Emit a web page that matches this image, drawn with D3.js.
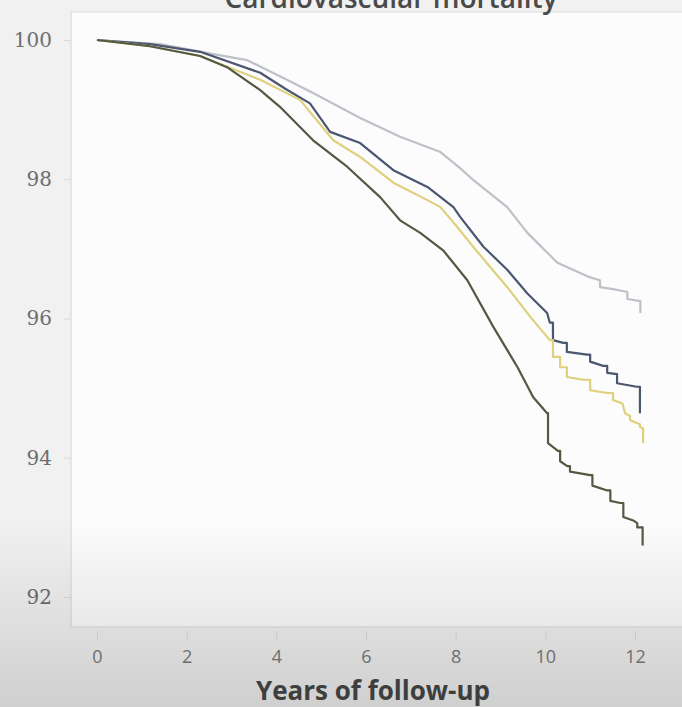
<!DOCTYPE html>
<html>
<head>
<meta charset="utf-8">
<script src="https://cdn.jsdelivr.net/npm/d3@7"></script>
<style>
  html, body { margin: 0; padding: 0; background: #f1f1f1; }
  svg { display: block; }
</style>
</head>
<body>
<svg id="chart" width="682" height="707"></svg>
<script>
// Kaplan-Meier style survival (%) by years of follow-up, four groups
const groupNames = ["Group A", "Group B", "Group C", "Group D"];
const groupColors = ["#bec1c8", "#4b5670", "#ded07c", "#525a43"];

const groupA = [
  [0, 100], [1.41, 99.94], [2.75, 99.78], [3.35, 99.71], [4.08, 99.48], [4.82, 99.24],
  [5.87, 98.88], [6.76, 98.61], [7.66, 98.39], [8.10, 98.16], [8.39, 97.99], [9.15, 97.60],
  [9.60, 97.23], [10.27, 96.80], [11.00, 96.59], [11.22, 96.55], [11.22, 96.45], [11.61, 96.41],
  [11.83, 96.38], [11.83, 96.28], [12.12, 96.25], [12.12, 96.08]
];
const groupB = [
  [0, 100], [1.18, 99.94], [2.30, 99.83], [3.64, 99.53], [4.20, 99.30], [4.75, 99.09],
  [5.20, 98.68], [5.87, 98.52], [6.61, 98.13], [7.37, 97.89], [7.95, 97.60], [8.10, 97.46],
  [8.62, 97.03], [9.15, 96.70], [9.60, 96.36], [10.04, 96.08], [10.10, 95.94], [10.17, 95.94],
  [10.17, 95.69], [10.40, 95.65], [10.48, 95.65], [10.48, 95.52], [10.93, 95.48], [11.00, 95.48],
  [11.00, 95.38], [11.29, 95.32], [11.38, 95.32], [11.38, 95.22], [11.60, 95.20], [11.60, 95.07],
  [12.04, 95.02], [12.11, 95.02], [12.11, 94.64]
];
const groupC = [
  [0, 100], [1.18, 99.91], [2.30, 99.77], [3.64, 99.43], [4.53, 99.14], [5.27, 98.56],
  [5.87, 98.32], [6.61, 97.95], [7.37, 97.70], [7.66, 97.60], [8.04, 97.31], [8.39, 97.03],
  [9.15, 96.45], [9.67, 96.02], [10.10, 95.69], [10.17, 95.69], [10.17, 95.45], [10.33, 95.45],
  [10.33, 95.30], [10.48, 95.30], [10.48, 95.16], [10.84, 95.12], [11.00, 95.12], [11.00, 94.97],
  [11.38, 94.93], [11.51, 94.93], [11.51, 94.83], [11.72, 94.78], [11.78, 94.64], [11.89, 94.60],
  [11.89, 94.54], [12.11, 94.48], [12.11, 94.44], [12.18, 94.42], [12.18, 94.21]
];
const groupD = [
  [0, 100], [1.18, 99.91], [2.30, 99.77], [2.90, 99.61], [3.64, 99.28], [4.08, 99.04],
  [4.82, 98.56], [5.58, 98.18], [6.32, 97.74], [6.76, 97.41], [7.21, 97.23], [7.72, 96.98],
  [8.26, 96.55], [8.84, 95.88], [9.38, 95.30], [9.73, 94.87], [10.04, 94.64], [10.06, 94.64],
  [10.06, 94.21], [10.28, 94.10], [10.33, 94.10], [10.33, 93.95], [10.49, 93.88], [10.55, 93.88],
  [10.55, 93.80], [11.00, 93.75], [11.05, 93.75], [11.05, 93.60], [11.38, 93.53], [11.45, 93.53],
  [11.45, 93.38], [11.67, 93.35], [11.74, 93.35], [11.74, 93.15], [11.96, 93.10], [12.05, 93.06],
  [12.05, 93.00], [12.17, 93.00], [12.17, 92.74]
];
const series = [groupA, groupB, groupC, groupD];

const xTicks = [0, 2, 4, 6, 8, 10, 12];
const yTicks = [92, 94, 96, 98, 100];
const titleText = "Cardiovascular mortality";
const xTitle = "Years of follow-up";

const W = 682, H = 707;
const frame = { left: 71, top: 12, right: 682, bottom: 627 };

const svg = d3.select("#chart");
const defs = svg.append("defs");

// soft darkening toward the bottom edge
const shade = defs.append("linearGradient")
  .attr("id", "bottomShade").attr("x1", 0).attr("y1", 0).attr("x2", 0).attr("y2", 1);
shade.append("stop").attr("offset", "0%").attr("stop-color", "#000").attr("stop-opacity", 0);
shade.append("stop").attr("offset", "100%").attr("stop-color", "#000").attr("stop-opacity", 0.14);

const blur = defs.append("filter").attr("id", "soft");
blur.append("feGaussianBlur").attr("stdDeviation", 0.6);

svg.append("rect").attr("width", W).attr("height", H).attr("fill", "#f1f1f1");

// plot panel
svg.append("rect")
  .attr("x", frame.left).attr("y", frame.top)
  .attr("width", frame.right - frame.left).attr("height", frame.bottom - frame.top)
  .attr("fill", "#fcfcfd");

const x = d3.scaleLinear().domain([0, 12]).range([97, 635]);
const y = d3.scaleLinear().domain([92, 100]).range([597, 40]);

// frame lines
svg.append("path")
  .attr("d", `M${frame.right},${frame.top}H${frame.left}V${frame.bottom}H${frame.right}`)
  .attr("fill", "none").attr("stroke", "#d9d9d9").attr("stroke-width", 1.2);

// y axis
const yAxis = d3.axisLeft(y).tickValues(yTicks).tickSize(7).tickPadding(12);
const gy = svg.append("g").attr("transform", `translate(${frame.left},0)`).call(yAxis);
gy.select(".domain").remove();
gy.selectAll(".tick line").attr("stroke", "#dadada");
gy.selectAll(".tick text")
  .attr("font-family", "'DejaVu Serif', 'Liberation Serif', serif")
  .attr("font-size", 20).attr("fill", "#6e6e6e");

// x axis
const xAxis = d3.axisBottom(x).tickValues(xTicks).tickSize(9).tickPadding(10);
const gx = svg.append("g").attr("transform", `translate(0,${frame.bottom + 4})`).call(xAxis);
gx.select(".domain").remove();
gx.selectAll(".tick line").attr("stroke", "#dcdcdc");
gx.selectAll(".tick text")
  .attr("font-family", "'Open Sans', sans-serif")
  .attr("font-size", 18).attr("fill", "#7a7a7a");

// survival curves
const line = d3.line().x(d => x(d[0])).y(d => y(d[1])).curve(d3.curveLinear);
svg.append("g").attr("filter", "url(#soft)")
  .selectAll("path").data(series).join("path")
  .attr("d", line)
  .attr("fill", "none")
  .attr("stroke", (d, i) => groupColors[i])
  .attr("stroke-width", 2.2)
  .attr("stroke-linejoin", "round");

// axis title
svg.append("text")
  .attr("x", 373).attr("y", 700)
  .attr("text-anchor", "middle")
  .attr("font-family", "'Open Sans', sans-serif")
  .attr("font-weight", 700).attr("font-size", 26)
  .attr("fill", "#474747")
  .text(xTitle);

// chart title, running off the top edge
svg.append("text")
  .attr("x", 391).attr("y", 8)
  .attr("text-anchor", "middle")
  .attr("font-family", "'Open Sans', sans-serif")
  .attr("font-weight", 600).attr("font-size", 28)
  .attr("fill", "#4a4a4a")
  .text(titleText);

// bottom shading
svg.append("rect")
  .attr("x", 0).attr("y", 520).attr("width", W).attr("height", H - 520)
  .attr("fill", "url(#bottomShade)")
  .attr("pointer-events", "none");
</script>
</body>
</html>
